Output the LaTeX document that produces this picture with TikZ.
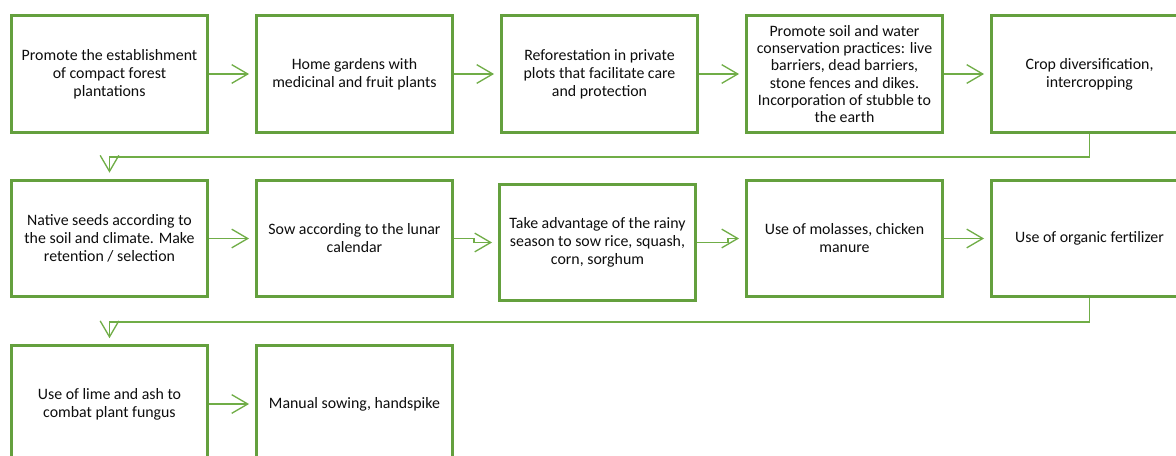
\documentclass[tikz,border=0pt]{standalone}
\usepackage{fontspec}
\setmainfont{Carlito}
\usetikzlibrary{arrows.meta}
\definecolor{boxgreen}{HTML}{64A03E}
\definecolor{linegreen}{HTML}{70AD47}
\definecolor{txt}{HTML}{0D0D0D}
\begin{document}
\begin{tikzpicture}[x=0.75pt,y=-0.75pt,
  box/.style={draw=boxgreen, line width=2.2pt, minimum width=147pt, minimum height=87.5pt,
    align=center, inner sep=0pt, font=\fontsize{11.9}{13.5}\selectfont, text=txt},
  arr/.style={draw=linegreen, line width=1pt,
    -{Straight Barb[length=12pt,width=14pt,line width=1pt]}, shorten >=4.5pt}]
\useasboundingbox (0,0) rectangle (1176,456);
% row 1
\node[box] (b1) at (109.5,74) {Promote the establishment\\of compact forest\\plantations};
\node[box] (b2) at (354.5,74) {Home gardens with\\medicinal and fruit plants};
\node[box] (b3) at (599.5,74) {Reforestation in private\\plots that facilitate care\\and protection};
\node[box,font=\fontsize{11.9}{12.9}\selectfont] (b4) at (844.5,74) {Promote soil and water\\conservation practices: live\\barriers, dead barriers,\\stone fences and dikes.\\Incorporation of stubble to\\the earth};
\node[box] (b5) at (1089.5,74) {Crop diversification,\\intercropping};
% row 2
\node[box] (b6) at (109.5,238.5) {Native seeds according to\\the soil and climate. Make\\retention / selection};
\node[box] (b7) at (354.5,238.5) {Sow according to the lunar\\calendar};
\node[box] (b8) at (597.5,242.5) {Take advantage of the rainy\\season to sow rice, squash,\\corn, sorghum};
\node[box] (b9) at (844.5,238.5) {Use of molasses, chicken\\manure};
\node[box] (b10) at (1089.5,238.5) {Use of organic fertilizer};
% row 3
\node[box] (b11) at (109.5,404) {Use of lime and ash to\\combat plant fungus};
\node[box] (b12) at (354.5,404) {Manual sowing, handspike};
% connectors
\coordinate (r1) at (0,157);
\coordinate (r2) at (0,322);
\draw[arr] (b1) -- (b2);
\draw[arr] (b2) -- (b3);
\draw[arr] (b3) -- (b4);
\draw[arr] (b4) -- (b5);
\draw[arr] (b5.south) |- (b6.north |- r1) -- (b6.north);
\draw[arr] (b6) -- (b7);
\draw[arr] (b7.east) -- ++(20,0) |- (b8.west);
\draw[arr] (b8.east) -- ++(31,0) |- (b9.west);
\draw[arr] (b9) -- (b10);
\draw[arr] (b10.south) |- (b11.north |- r2) -- (b11.north);
\draw[arr] (b11) -- (b12);
\end{tikzpicture}
\end{document}
